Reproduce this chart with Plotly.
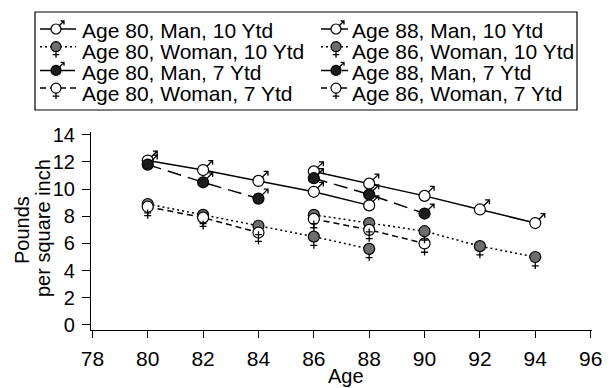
import plotly.graph_objects as go

# ---- data ----
ages_80_10 = [80, 82, 84, 86, 88]
ages_late_10 = [86, 88, 90, 92, 94]
ages_80_7 = [80, 82, 84]
ages_late_7 = [86, 88, 90]

man10_age80 = [12.1, 11.4, 10.6, 9.8, 8.8]
man10_age88 = [11.3, 10.4, 9.5, 8.5, 7.5]
woman10_age80 = [8.9, 8.1, 7.3, 6.5, 5.6]
woman10_age86 = [8.1, 7.5, 6.9, 5.8, 5.0]
man7_age80 = [11.8, 10.5, 9.3]
man7_age88 = [10.8, 9.6, 8.2]
woman7_age80 = [8.7, 7.9, 6.8]
woman7_age86 = [7.8, 7.0, 6.0]

x_ticks = [78, 80, 82, 84, 86, 88, 90, 92, 94, 96]
y_ticks = [0, 2, 4, 6, 8, 10, 12, 14]

FONT = "Liberation Sans, Arial, Helvetica, sans-serif"
OPEN = "white"
GRAY = "#6e6e6e"
BLACK = "#1c1c1c"

DASH_SOLID = "solid"
DASH_DOT = "2px,3px"
DASH_LONG = "14px,7px"
DASH_SHORT = "6px,4px"

# (name, x, y, sex, fill, dash, legend row, legend col)
series = [
    ("Age 80, Man, 10 Ytd", ages_80_10, man10_age80, "m", OPEN, DASH_SOLID, 0, 0),
    ("Age 88, Man, 10 Ytd", ages_late_10, man10_age88, "m", OPEN, DASH_SOLID, 0, 1),
    ("Age 80, Woman, 10 Ytd", ages_80_10, woman10_age80, "f", GRAY, DASH_DOT, 1, 0),
    ("Age 86, Woman, 10 Ytd", ages_late_10, woman10_age86, "f", GRAY, DASH_DOT, 1, 1),
    ("Age 80, Man, 7 Ytd", ages_80_7, man7_age80, "m", BLACK, DASH_LONG, 2, 0),
    ("Age 88, Man, 7 Ytd", ages_late_7, man7_age88, "m", BLACK, DASH_LONG, 2, 1),
    ("Age 80, Woman, 7 Ytd", ages_80_7, woman7_age80, "f", OPEN, DASH_SHORT, 3, 0),
    ("Age 86, Woman, 7 Ytd", ages_late_7, woman7_age86, "f", OPEN, DASH_SHORT, 3, 1),
]

MALE_PATH = "M 3.5 3.5 L 9.5 9.5 M 5.2 9.5 L 9.5 9.5 L 9.5 5.2"
FEMALE_PATH = "M 0 -5.5 L 0 -12 M -3.5 -8.8 L 3.5 -8.8"
MALE_PATH_L = "M 3.2 3.2 L 8 8 M 4.6 8 L 8 8 L 8 4.6"
FEMALE_PATH_L = "M 0 -5 L 0 -11 M -3.3 -8 L 3.3 -8"

W, H = 615, 388
ML, MR, MT, MB = 91, 23, 132, 58
PW, PH = W - ML - MR, H - MT - MB


def px(xp):
    return (xp - ML) / PW


def py(yp):
    return (H - MB - yp) / PH


fig = go.Figure()
shapes = []
annotations = []

# legend geometry (pixels)
BOX = (35, 12, 577, 110)
ROW0, ROW_STEP = 31, 20.7
COLS = [dict(l0=40, l1=76, c=56, t=80), dict(l0=321, l1=348, c=336, t=350)]

shapes.append(dict(type="rect", xref="paper", yref="paper",
                   x0=px(BOX[0]), x1=px(BOX[2]), y0=py(BOX[1]), y1=py(BOX[3]),
                   line=dict(color="black", width=1.2), fillcolor="white", layer="below"))

for name, xs, ys, sex, fill, dash, row, col in series:
    fig.add_trace(go.Scatter(
        x=xs, y=ys, name=name, mode="lines+markers", showlegend=False,
        line=dict(color="black", width=1.5, dash=dash),
        marker=dict(symbol="circle", size=11, color=fill,
                    line=dict(color="black", width=1.2)),
    ))
    glyph = MALE_PATH if sex == "m" else FEMALE_PATH
    for xv, yv in zip(xs, ys):
        shapes.append(dict(
            type="path", xref="x", yref="y",
            xsizemode="pixel", ysizemode="pixel",
            xanchor=xv, yanchor=yv, path=glyph,
            line=dict(color="black", width=1.3),
        ))
    # legend entry
    c = COLS[col]
    ytext = ROW0 + ROW_STEP * row
    ysym = py(ytext - (2 if sex == "m" else 5))
    shapes.append(dict(type="line", xref="paper", yref="paper",
                       x0=px(c["l0"]), x1=px(c["l1"]), y0=ysym, y1=ysym,
                       line=dict(color="black", width=1.5, dash=dash)))
    shapes.append(dict(type="circle", xref="paper", yref="paper",
                       xsizemode="pixel", ysizemode="pixel",
                       xanchor=px(c["c"]), yanchor=ysym,
                       x0=-5, x1=5, y0=-5, y1=5,
                       fillcolor=fill, line=dict(color="black", width=1.2)))
    shapes.append(dict(type="path", xref="paper", yref="paper",
                       xsizemode="pixel", ysizemode="pixel",
                       xanchor=px(c["c"]), yanchor=ysym,
                       path=MALE_PATH_L if sex == "m" else FEMALE_PATH_L,
                       line=dict(color="black", width=1.3)))
    annotations.append(dict(text=name, xref="paper", yref="paper",
                            x=px(c["t"]), y=py(ytext), xanchor="left", yanchor="middle",
                            showarrow=False,
                            font=dict(family=FONT, size=21, color="black")))

# axis titles
annotations.append(dict(text="Age", xref="paper", yref="paper",
                        x=px(346), y=py(376), xanchor="center", yanchor="middle",
                        showarrow=False, font=dict(family=FONT, size=20, color="black")))
annotations.append(dict(text="Pounds", xref="paper", yref="paper", textangle=-90,
                        x=px(22), y=py(230), xanchor="center", yanchor="middle",
                        showarrow=False, font=dict(family=FONT, size=20, color="black")))
annotations.append(dict(text="per square inch", xref="paper", yref="paper", textangle=-90,
                        x=px(43), y=py(228), xanchor="center", yanchor="middle",
                        showarrow=False, font=dict(family=FONT, size=20, color="black")))

fig.update_layout(
    width=W, height=H,
    margin=dict(l=ML, r=MR, t=MT, b=MB),
    paper_bgcolor="white", plot_bgcolor="white",
    font=dict(family=FONT, color="black", size=20),
    shapes=shapes,
    annotations=annotations,
    showlegend=False,
    xaxis=dict(
        range=[77.95, 96.05], tickvals=x_ticks, ticktext=[str(v) for v in x_ticks],
        showline=True, linecolor="black", linewidth=1.2,
        ticks="outside", ticklen=7, tickcolor="black", tickwidth=1.2,
        ticklabelstandoff=3,
        showgrid=False, zeroline=False,
        tickfont=dict(family=FONT, size=21),
    ),
    yaxis=dict(
        range=[-0.37, 14.2], tickvals=y_ticks, ticktext=[str(v) for v in y_ticks],
        showline=True, linecolor="black", linewidth=1.2,
        ticks="outside", ticklen=8, tickcolor="black", tickwidth=1.2,
        ticklabelstandoff=3,
        showgrid=False, zeroline=False,
        tickfont=dict(family=FONT, size=20),
    ),
)

fig.write_html("out.html", config={"displayModeBar": False},
               post_script="document.body.style.margin='0';")
